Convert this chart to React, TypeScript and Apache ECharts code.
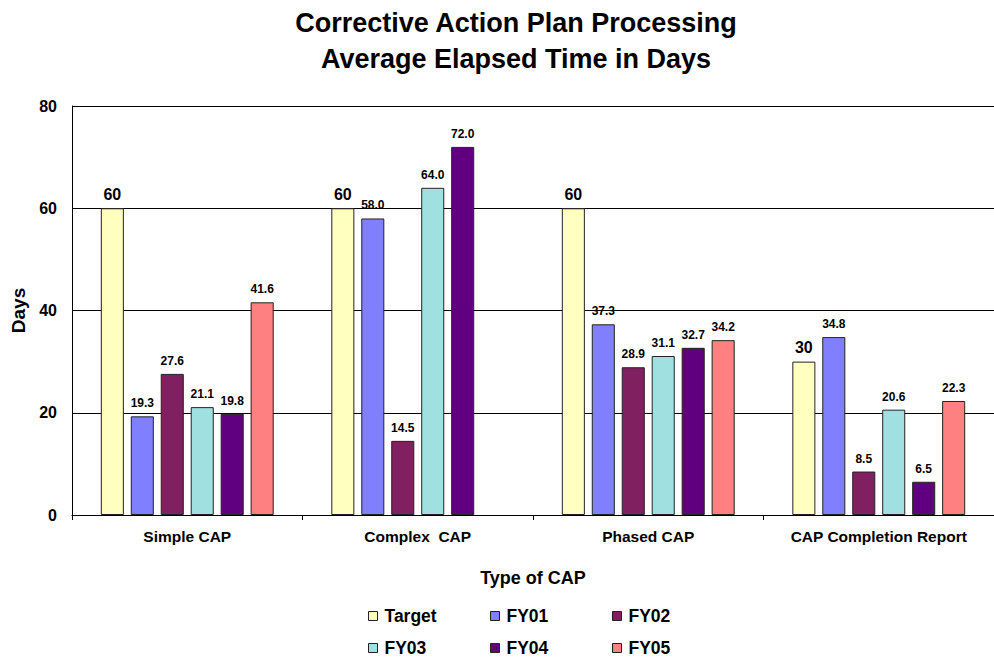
import React, { useEffect, useRef } from "react";
import * as echarts from "echarts";

const categories = ["Simple CAP", "Complex  CAP", "Phased CAP", "CAP Completion Report"];
const seriesNames = ["Target", "FY01", "FY02", "FY03", "FY04", "FY05"];
const target = [60, 60, 60, 30];
const fy01 = [19.3, 58.0, 37.3, 34.8];
const fy02 = [27.6, 14.5, 28.9, 8.5];
const fy03 = [21.1, 64.0, 31.1, 20.6];
const fy04 = [19.8, 72.0, 32.7, 6.5];
const fy05 = [41.6, null, 34.2, 22.3];
const colors = ["#FFFFC0", "#8080FF", "#802060", "#A0E0E0", "#600080", "#FF8080"];

const FONT = "'Liberation Sans', Arial, sans-serif";

export default function App() {
  const ref = useRef<HTMLDivElement>(null);
  useEffect(() => {
    if (!ref.current) return;
    const chart = echarts.init(ref.current, undefined, { renderer: "svg" });
    const allData = [target, fy01, fy02, fy03, fy04, fy05];
    const series = allData.map((d, i) => ({
      name: seriesNames[i],
      type: "bar",
      data: d,
      barGap: "30%",
      barCategoryGap: "25%",
      itemStyle: { color: colors[i], borderColor: "#222", borderWidth: 1 },
      label: {
        show: true,
        position: "top",
        distance: i === 0 ? 6 : 7,
        color: "#000",
        fontFamily: FONT,
        fontWeight: "bold",
        fontSize: i === 0 ? 16 : 12,
        formatter: (p: any) =>
          p.value == null ? "" : i === 0 ? String(p.value) : Number(p.value).toFixed(1),
      },
    }));
    const legendPos = [
      [368, 607], [490, 607], [612, 607],
      [368, 639], [490, 639], [612, 639],
    ];
    const legends = seriesNames.map((n, i) => ({
      data: [n],
      left: legendPos[i][0],
      top: legendPos[i][1],
      itemWidth: 9,
      itemHeight: 9,
      itemGap: 0,
      padding: 0,
      icon: "rect",
      itemStyle: { borderColor: "#222", borderWidth: 1 },
      textStyle: { fontFamily: FONT, fontWeight: "bold", fontSize: 17.5, color: "#000", padding: [0, 0, 0, 2] },
      selectedMode: false,
    }));
    chart.setOption({
      animation: false,
      color: colors,
      title: {
        text: "Corrective Action Plan Processing\nAverage Elapsed Time in Days",
        left: 511,
        top: 0,
        textAlign: "center",
        textStyle: { fontFamily: FONT, fontWeight: "bold", fontSize: 27, lineHeight: 36, color: "#000" },
      },
      legend: legends,
      grid: { left: 72, top: 106, width: 929, height: 409, containLabel: false },
      xAxis: {
        type: "category",
        data: categories,
        name: "Type of CAP",
        nameLocation: "middle",
        nameGap: 54,
        nameTextStyle: { fontFamily: FONT, fontWeight: "bold", fontSize: 18, color: "#000" },
        axisLine: { lineStyle: { color: "#000", width: 1 } },
        axisTick: { show: true, length: 5, lineStyle: { color: "#000" } },
        axisLabel: { fontFamily: FONT, fontWeight: "bold", fontSize: 15.5, color: "#000", margin: 13 },
      },
      yAxis: {
        type: "value",
        min: 0,
        max: 80,
        interval: 20,
        name: "Days",
        nameLocation: "middle",
        nameGap: 44,
        nameRotate: 90,
        nameTextStyle: { fontFamily: FONT, fontWeight: "bold", fontSize: 19, color: "#000" },
        axisLine: { show: true, lineStyle: { color: "#000", width: 1 } },
        axisTick: { show: false },
        axisLabel: { fontFamily: FONT, fontWeight: "bold", fontSize: 16, color: "#000", margin: 15 },
        splitLine: { show: true, lineStyle: { color: "#000", width: 1 } },
      },
      series,
    });
    return () => chart.dispose();
  }, []);
  return (
    <div
      ref={ref}
      style={{ position: "fixed", left: 0, top: 0, width: 994, height: 658, background: "#fff" }}
    />
  );
}
